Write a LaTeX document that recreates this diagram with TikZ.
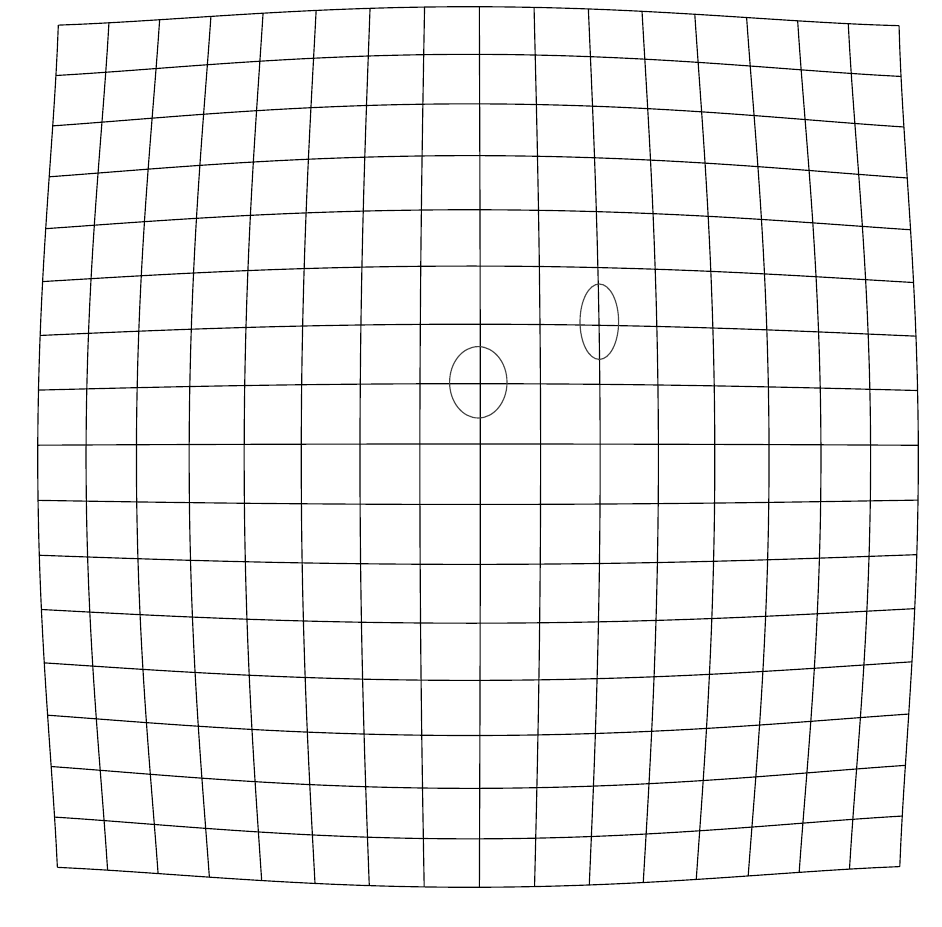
\documentclass[tikz,border=0pt]{standalone}
\usepackage{tikz}
\usetikzlibrary{calc}
\tikzset{
    % Warped grid line style
    gridline/.style={
        draw=black,
        line width=0.65pt,
        line join=round
    },
    % Marked spot style
    spotline/.style={
        draw=black!75,
        line width=0.65pt
    }
}

\begin{document}
\begin{tikzpicture}[x=0.02cm, y=-0.02cm,
    declare function={
        gain(\s)=60.48-0.10849*\s+0.0003665*\s*\s;
        rr(\u,\v)=(\u+0.17)*(\u+0.17)+(\v+0.225)*(\v+0.225);
        wx(\u,\v)=470+(\u+0.17)*gain(rr(\u,\v));
        wy(\u,\v)=457.6-(\v+0.225)*gain(rr(\u,\v));
    }]
    \useasboundingbox (0,0) rectangle (942,926);

    % vertical lines
    \foreach \i in {-8,...,8}
        \draw[gridline] plot[smooth, samples=33, domain=-8:8, variable=\t]
            ({wx(\i,\t)}, {wy(\i,\t)});
    % horizontal lines
    \foreach \j in {-8,...,8}
        \draw[gridline] plot[smooth, samples=33, domain=-8:8, variable=\t]
            ({wx(\t,\j)}, {wy(\t,\j)});

    % spots
    \draw[spotline] (478.3,382.3) ellipse [x radius=28.7, y radius=35.7];
    \draw[spotline] (599.3,321.7) ellipse [x radius=19.3, y radius=37.7];
\end{tikzpicture}
\end{document}
